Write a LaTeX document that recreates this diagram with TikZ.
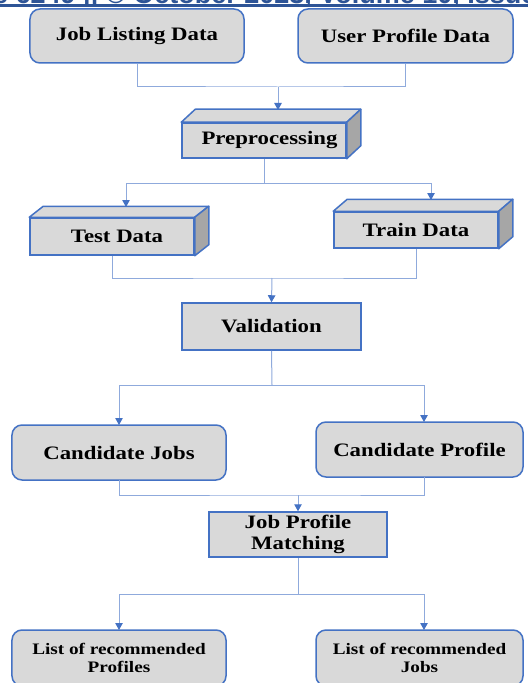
\documentclass[tikz,border=0pt]{standalone}
\usepackage{fontspec}
\setmainfont[FakeStretch=1.2]{Liberation Serif}
\newfontfamily\hdrfont{Liberation Sans}
\usetikzlibrary{arrows.meta,calc}
\definecolor{bord}{RGB}{68,114,196}
\definecolor{connc}{RGB}{143,170,220}
\definecolor{boxfill}{RGB}{217,217,217}
\definecolor{sidefill}{RGB}{166,166,166}
\definecolor{hdr}{RGB}{46,84,150}
\newcommand{\mfont}{\bfseries\fontsize{19bp}{22bp}\selectfont}
\newcommand{\sfontx}{\bfseries\fontsize{16bp}{18bp}\selectfont}
\tikzset{
  rbox/.style={draw=bord, line width=1.5bp, fill=boxfill, rounded corners=10bp,
    font=\mfont, align=center, inner sep=0pt},
  fbox/.style={draw=bord, line width=1.5bp, fill=boxfill,
    font=\mfont, align=center, inner sep=0pt},
  face/.style={draw=bord, line width=1.5bp, fill=boxfill, line join=round},
  sface/.style={draw=bord, line width=1.5bp, fill=sidefill, line join=round},
  conn/.style={draw=connc, line width=1bp},
  arr/.style={conn, -{Triangle[width=7.5bp,length=7bp,color=bord]}},
}
\begin{document}
\begin{tikzpicture}[x=1bp,y=-1bp]
\useasboundingbox (0,0) rectangle (528,683);
\fill[white] (0,0) rectangle (528,683);
\clip (0,0) rectangle (528,683);

% header strip (cut off)
\begin{scope}
  \clip (0,0) rectangle (528,3.8);
  \node[anchor=base west, inner sep=0pt, text=hdr,
        font=\hdrfont\bfseries\fontsize{27bp}{30bp}\selectfont] (hdrtext) at (-7,3.8)
        {e 6249 || © October 2023, Volume 10, Issue};
\end{scope}
\draw[hdr, line width=2.5bp] (0,5.3) -- (528,5.3);

% sources
\node[rbox, minimum width=214bp, minimum height=54bp] (jld) at (137,36) {Job Listing Data};
\node[rbox, minimum width=215bp, minimum height=54bp] (upd) at (405.5,36) {User Profile Data};

% preprocessing (3D)
\node[fbox, minimum width=164bp, minimum height=35bp] (pre) at (264,140.5) {\hspace*{11bp}Preprocessing};
\draw[face] (pre.north west) -- ++(14,-13) -- ($(pre.north east)+(14,-13)$) -- (pre.north east) -- cycle;
\draw[sface] (pre.north east) -- ++(14,-13) -- ($(pre.south east)+(14,-13)$) -- (pre.south east) -- cycle;

% test / train (3D)
\node[fbox, minimum width=164bp, minimum height=37bp] (test) at (112,236.5) {\hspace*{10bp}Test Data};
\draw[face] (test.north west) -- ++(14,-11) -- ($(test.north east)+(14,-11)$) -- (test.north east) -- cycle;
\draw[sface] (test.north east) -- ++(14,-11) -- ($(test.south east)+(14,-11)$) -- (test.south east) -- cycle;

\node[fbox, minimum width=164bp, minimum height=36bp] (train) at (416,230) {Train Data};
\draw[face] (train.north west) -- ++(14,-12) -- ($(train.north east)+(14,-12)$) -- (train.north east) -- cycle;
\draw[sface] (train.north east) -- ++(14,-12) -- ($(train.south east)+(14,-12)$) -- (train.south east) -- cycle;

% validation
\node[fbox, minimum width=179bp, minimum height=47bp] (val) at (271.5,326.5) {Validation};

% candidates
\node[rbox, minimum width=214bp, minimum height=55bp] (cj) at (119,452.5) {Candidate Jobs};
\node[rbox, minimum width=207bp, minimum height=55bp] (cp) at (419.5,449.5) {Candidate Profile};

% matching
\node[fbox, minimum width=178bp, minimum height=45bp] (jpm) at (298,534.5) {Job Profile\\[-1bp]Matching};

% outputs
\node[rbox, font=\sfontx, minimum width=214bp, minimum height=56bp] (lrp) at (119,658) {List of recommended\\Profiles};
\node[rbox, font=\sfontx, minimum width=207bp, minimum height=56bp] (lrj) at (419.5,658) {List of recommended\\Jobs};

% connector coordinates
\coordinate (m1) at (278,87);
\coordinate (pretop) at (278,110);
\coordinate (s2) at (264,183);
\coordinate (testtop) at (126,207);
\coordinate (traintop) at (431,200);
\coordinate (m3) at (272,278);
\coordinate (s4) at (272,385);
\coordinate (cjtop) at (119,425);
\coordinate (cptop) at (424,422);
\coordinate (cjbot) at (119,480);
\coordinate (cpbot) at (424,477);
\coordinate (m5) at (298,495);
\coordinate (s6) at (298,594);
\coordinate (lrptop) at (119,630);
\coordinate (lrjtop) at (424,630);

% connectors
\draw[conn] (jld.south) |- (m1) -| (upd.south);
\draw[arr] (m1) -- (pretop);

\draw[conn] (pre.south) -- (s2);
\draw[arr] (s2) -| (testtop);
\draw[arr] (s2) -| (traintop);

\draw[conn] (test.south) |- (m3) -| (train.south);
\draw[arr] (m3) -- (val.north);

\draw[conn] (val.south) -- (s4);
\draw[arr] (s4) -| (cjtop);
\draw[arr] (s4) -| (cptop);

\draw[conn] (cjbot) |- (m5) -| (cpbot);
\draw[arr] (m5) -- (jpm.north);

\draw[conn] (jpm.south) -- (s6);
\draw[arr] (s6) -| (lrptop);
\draw[arr] (s6) -| (lrjtop);
\end{tikzpicture}
\end{document}
